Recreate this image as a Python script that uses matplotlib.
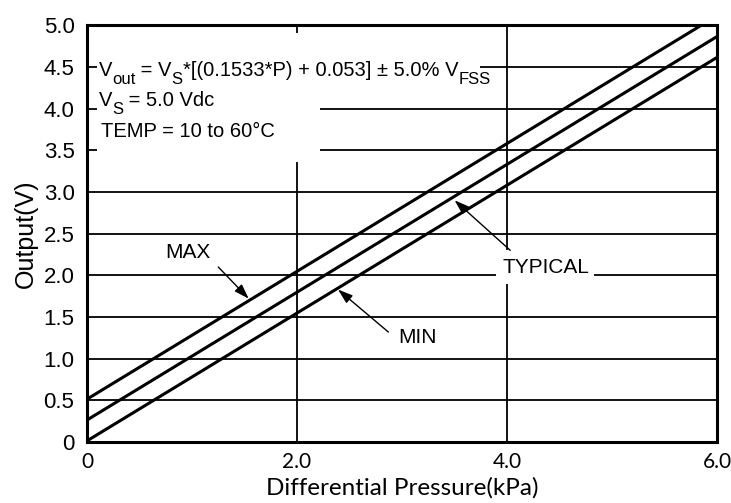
import matplotlib
matplotlib.use("Agg")
import matplotlib.pyplot as plt
from matplotlib.patches import Rectangle

# values (line end points at P = 0 and P = 6 kPa)
pressure = [0.0, 6.0]
out_max = [0.515, 5.114]
out_typ = [0.265, 4.864]
out_min = [0.015, 4.614]

x_ticks = [0, 2, 4, 6]
x_labels = ["0", "2.0", "4.0", "6.0"]
y_ticks = [0, 0.5, 1.0, 1.5, 2.0, 2.5, 3.0, 3.5, 4.0, 4.5, 5.0]
y_labels = ["0", "0.5", "1.0", "1.5", "2.0", "2.5", "3.0", "3.5", "4.0", "4.5", "5.0"]

arial = ["Liberation Sans", "DejaVu Sans"]
calibri = ["Lato", "DejaVu Sans"]

fig = plt.figure(figsize=(7.31, 5.03), dpi=100)
ax = fig.add_axes([0.119, 0.121, 0.862, 0.829])
ax.set_xlim(0, 6)
ax.set_ylim(0, 5)


def chain(x, y, parts, size=14.5, sub_size=12, drop=5):
    # parts: list of (string, is_subscript); pieces are laid end to end
    prev = None
    last_sub = False
    for s, sub in parts:
        fs = sub_size if sub else size
        if prev is None:
            prev = ax.text(x, y, s, fontsize=fs, family=arial, ha="left",
                           va="baseline", zorder=4)
        else:
            dy = -drop if sub else (drop if last_sub else 0)
            prev = ax.annotate(s, xy=(1, 0), xycoords=prev, xytext=(0, dy),
                               textcoords="offset points", fontsize=fs, family=arial,
                               ha="left", va="bottom", zorder=4)
        last_sub = sub
    return prev


# grid
for y in y_ticks[1:-1]:
    ax.axhline(y, color="black", lw=1.3, zorder=1)
for x in [2, 4]:
    ax.axvline(x, color="black", lw=1.3, zorder=1)

# white areas behind the annotation text
ax.add_patch(Rectangle((0.1, 3.36), 2.12, 1.54, facecolor="white", edgecolor="none", zorder=2))
ax.add_patch(Rectangle((0.1, 4.30), 3.64, 0.38, facecolor="white", edgecolor="none", zorder=2))
ax.add_patch(Rectangle((3.89, 1.90), 0.94, 0.40, facecolor="white", edgecolor="none", zorder=2))

ax.plot(pressure, out_max, color="black", lw=2.2, zorder=3, solid_capstyle="butt")
ax.plot(pressure, out_typ, color="black", lw=2.2, zorder=3, solid_capstyle="butt")
ax.plot(pressure, out_min, color="black", lw=2.2, zorder=3, solid_capstyle="butt")

chain(0.11, 4.39, [("V", False), ("out", True),
                   (" = V", False), ("S", True),
                   ("*[(0.1533*P) + 0.053] ± 5.0% V", False), ("FSS", True)])
chain(0.11, 4.03, [("V", False), ("S", True), (" = 5.0 Vdc", False)])
ax.text(0.13, 3.66, "TEMP = 10 to 60°C", fontsize=14.5, family=arial,
        va="baseline", ha="left", zorder=4)

arrow = dict(arrowstyle="-|>,head_length=0.9,head_width=0.3", color="black", lw=1.0,
             shrinkA=0, shrinkB=0)
ax.annotate("", xy=(1.54, 1.72), xytext=(1.25, 2.10), arrowprops=arrow, zorder=4)
ax.text(0.96, 2.27, "MAX", fontsize=15, family=arial, ha="center", va="center", zorder=4)
ax.annotate("", xy=(2.39, 1.83), xytext=(2.87, 1.32), arrowprops=arrow, zorder=4)
ax.text(3.15, 1.25, "MIN", fontsize=15, family=arial, ha="center", va="center", zorder=4)
ax.annotate("", xy=(3.50, 2.90), xytext=(4.03, 2.30), arrowprops=arrow, zorder=4)
ax.text(4.37, 2.10, "TYPICAL", fontsize=15, family=arial, ha="center", va="center", zorder=4)

ax.set_xticks(x_ticks)
ax.set_xticklabels(x_labels, family=calibri, fontsize=15)
ax.set_yticks(y_ticks)
ax.set_yticklabels(y_labels, family=arial, fontsize=16)
ax.tick_params(length=0, pad=7)
ax.tick_params(axis="y", pad=9)

for s in ax.spines.values():
    s.set_linewidth(2.2)
    s.set_zorder(5)

ax.set_xlabel("Differential Pressure(kPa)", family=calibri, fontsize=17.5, labelpad=4)
ax.set_ylabel("Output(V)", family=arial, fontsize=18, labelpad=4)

fig.savefig("out.png", dpi=100)
